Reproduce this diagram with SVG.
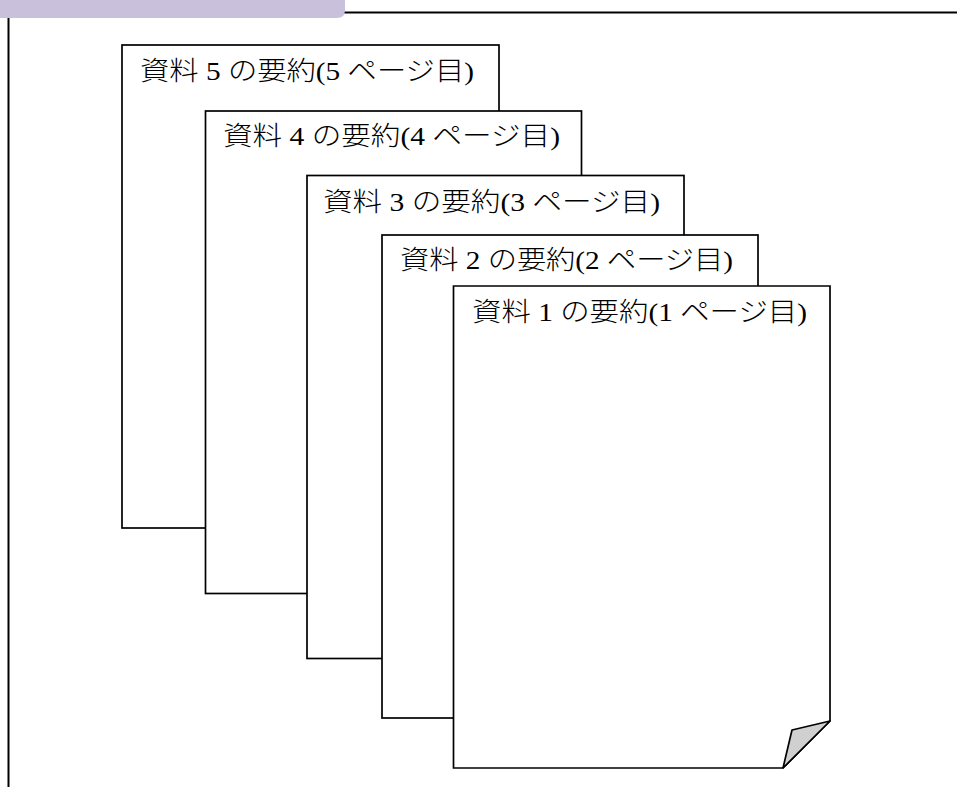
<svg xmlns="http://www.w3.org/2000/svg" width="957" height="787" viewBox="0 0 957 787">
<style>
.page{fill:#fff;stroke:#000;stroke-width:1.7}
.lbl{font-family:"Liberation Serif","Noto Sans CJK JP",serif;font-size:26px;font-weight:300;fill:#000}
.frame{stroke:#000;stroke-width:2;fill:none}
</style>
<rect width="957" height="787" fill="#fff"/>
<g id="frame">
<line class="frame" x1="330" y1="12.5" x2="957" y2="12.5"/>
<line class="frame" x1="8.5" y1="12" x2="8.5" y2="787"/>
<path d="M0,0 H345 V10 Q345,18 337,18 H0 Z" fill="#c9c0dc"/>
</g>
<g id="page5">
<rect class="page" x="122" y="45" width="377" height="483"/>
<text class="lbl" x="140" y="80" textLength="334" lengthAdjust="spacingAndGlyphs">資料 5 の要約(5 ページ目)</text>
</g>
<g id="page4">
<rect class="page" x="205.5" y="111" width="376" height="482.5"/>
<text class="lbl" x="223" y="145" textLength="337" lengthAdjust="spacingAndGlyphs">資料 4 の要約(4 ページ目)</text>
</g>
<g id="page3">
<rect class="page" x="307" y="175.5" width="377" height="483"/>
<text class="lbl" x="323" y="211" textLength="337" lengthAdjust="spacingAndGlyphs">資料 3 の要約(3 ページ目)</text>
</g>
<g id="page2">
<rect class="page" x="382" y="235" width="376" height="483"/>
<text class="lbl" x="400" y="269" textLength="333" lengthAdjust="spacingAndGlyphs">資料 2 の要約(2 ページ目)</text>
</g>
<g id="page1">
<path class="page" d="M453.5,286 H830 V721 L783,768 H453.5 Z"/>
<path d="M830,721 L792,730 L783,768 Z" fill="#d0d0d0" stroke="#000" stroke-width="1.7" stroke-linejoin="round"/>
<text class="lbl" x="472" y="321" textLength="335" lengthAdjust="spacingAndGlyphs">資料 1 の要約(1 ページ目)</text>
</g>
<g id="connectors"/>
</svg>
